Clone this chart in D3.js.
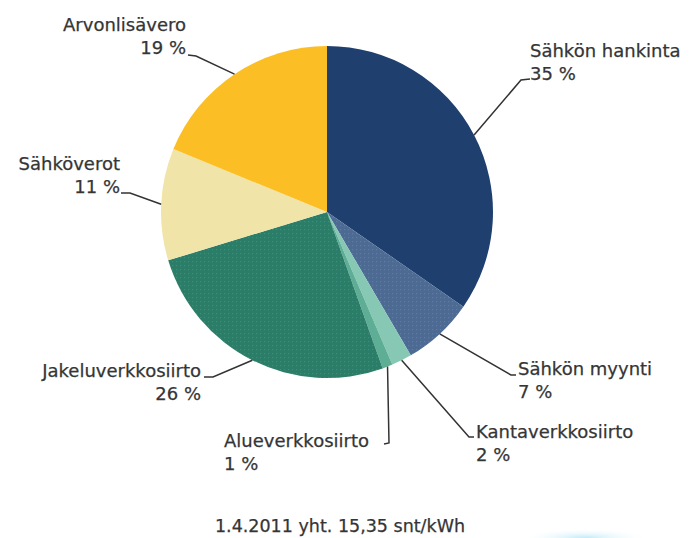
<!DOCTYPE html>
<html>
<head>
<meta charset="utf-8">
<script src="https://cdn.jsdelivr.net/npm/d3@7"></script>
<style>
  body { margin: 0; background: #fff; }
  svg { display: block; }
  text { font-family: "DejaVu Sans", Verdana, sans-serif; fill: #353535; stroke: #353535; stroke-width: 0.25; }
</style>
</head>
<body>
<svg id="chart"></svg>
<script>
// data
const categories = ['Sähkön hankinta', 'Sähkön myynti', 'Kantaverkkosiirto', 'Alueverkkosiirto',
  'Jakeluverkkosiirto', 'Sähköverot', 'Arvonlisävero'];
const shares = [35, 7, 2, 1, 26, 11, 19];
const footnote = '1.4.2011 yht. 15,35 snt/kWh';

const width = 692;
const height = 538;
const cx = 327, cy = 212, radius = 166;

const colors = ['#1f3f6f', '#4d6a93', '#86c8b3', '#5eae95', '#2b7d68', '#f0e4a8', '#fbbf25'];
const textured = [false, true, false, false, true, false, false];

// label layout: text anchor, first baseline, leader line bend points
const labelLayout = [
  {x: 530, y: 57, anchor: 'start', path: [[521, 80], [530, 79]]},
  {x: 518, y: 375, anchor: 'start', path: [[511, 375], [516, 375]]},
  {x: 476, y: 438, anchor: 'start', path: [[469, 437], [474, 437]]},
  {x: 224, y: 447, anchor: 'start', path: [[389, 443], [384, 444]]},
  {x: 201, y: 377, anchor: 'end', path: [[213, 377], [204, 377]]},
  {x: 120, y: 170, anchor: 'end', path: [[130, 193], [121, 193]]},
  {x: 186, y: 31, anchor: 'end', path: [[196, 56], [188, 55]]}
];

const svg = d3.select('#chart')
  .attr('width', width)
  .attr('height', height);

// dotted texture for some slices
const defs = svg.append('defs');
colors.forEach((c, i) => {
  if (!textured[i]) return;
  const p = defs.append('pattern')
    .attr('id', 'tex' + i)
    .attr('patternUnits', 'userSpaceOnUse')
    .attr('width', 4)
    .attr('height', 4);
  p.append('rect').attr('width', 4).attr('height', 4).attr('fill', c);
  p.append('rect').attr('x', 1).attr('y', 1).attr('width', 1.2).attr('height', 1.2)
    .attr('fill', d3.color(c).brighter(0.45));
});

const pie = d3.pie().sort(null).value(d => d)(shares);
const arc = d3.arc().innerRadius(0).outerRadius(radius);

const g = svg.append('g').attr('transform', `translate(${cx},${cy})`);

g.selectAll('path.slice')
  .data(pie)
  .join('path')
  .attr('class', 'slice')
  .attr('d', arc)
  .attr('fill', (d, i) => textured[i] ? `url(#tex${i})` : colors[i]);

// leader lines from slice middle on the rim
const rimPoint = d => {
  const a = (d.startAngle + d.endAngle) / 2;
  return [cx + radius * Math.sin(a), cy - radius * Math.cos(a)];
};

svg.selectAll('polyline.leader')
  .data(pie)
  .join('polyline')
  .attr('class', 'leader')
  .attr('points', (d, i) => [rimPoint(d), ...labelLayout[i].path].join(' '))
  .attr('fill', 'none')
  .attr('stroke', '#333')
  .attr('stroke-width', 1.5);

const labels = svg.selectAll('text.label')
  .data(pie)
  .join('text')
  .attr('class', 'label')
  .attr('text-anchor', (d, i) => labelLayout[i].anchor)
  .attr('font-size', 18);

labels.append('tspan')
  .attr('x', (d, i) => labelLayout[i].x)
  .attr('y', (d, i) => labelLayout[i].y)
  .text((d, i) => categories[i]);

labels.append('tspan')
  .attr('x', (d, i) => labelLayout[i].x)
  .attr('y', (d, i) => labelLayout[i].y + 23)
  .text(d => d.data + ' %');

svg.append('text')
  .attr('x', 340)
  .attr('y', 532)
  .attr('text-anchor', 'middle')
  .attr('font-size', 17.5)
  .text(footnote);

// faint light-blue smudge bottom right
const grad = defs.append('radialGradient').attr('id', 'smudge');
grad.append('stop').attr('offset', '0%').attr('stop-color', '#bfeaf8');
grad.append('stop').attr('offset', '100%').attr('stop-color', '#ffffff').attr('stop-opacity', 0);
svg.append('ellipse')
  .attr('cx', 585).attr('cy', 538)
  .attr('rx', 65).attr('ry', 10)
  .attr('fill', 'url(#smudge)');
</script>
</body>
</html>
